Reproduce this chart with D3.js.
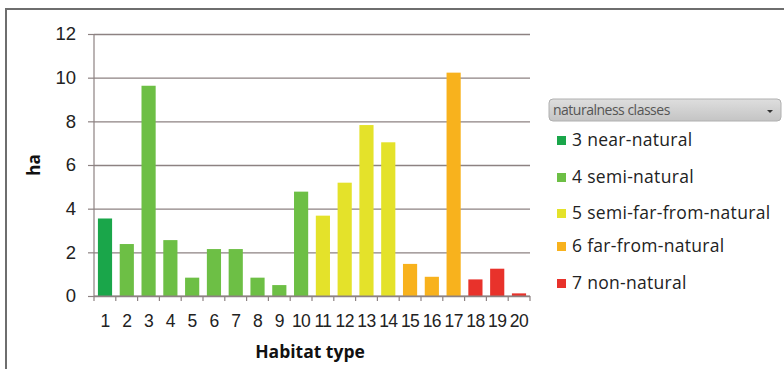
<!DOCTYPE html>
<html>
<head>
<meta charset="utf-8">
<script src="https://cdn.jsdelivr.net/npm/d3@7"></script>
<style>
  html, body { margin: 0; padding: 0; background: #fff; }
  svg { display: block; font-family: "Open Sans", "DejaVu Sans", sans-serif; }
</style>
</head>
<body>
<svg id="chart" width="784" height="369"></svg>
<script>
// Habitat types 1..20 and their area in hectares
const habitatTypes = ["1","2","3","4","5","6","7","8","9","10","11","12","13","14","15","16","17","18","19","20"];
const areaHa = [3.55, 2.38, 9.63, 2.56, 0.84, 2.15, 2.15, 0.84, 0.5, 4.78, 3.68, 5.19, 7.83, 7.04, 1.47, 0.88, 10.23, 0.76, 1.25, 0.12];
// naturalness class of each habitat type
const classOf = ["3","4","4","4","4","4","4","4","4","4","5","5","5","5","6","6","6","7","7","7"];
const classKeys = ["3","4","5","6","7"];
const classLabels = ["3 near-natural", "4 semi-natural", "5 semi-far-from-natural", "6 far-from-natural", "7 non-natural"];
const classColors = ["#1aa64a", "#6dbf45", "#e4e22a", "#f8b21d", "#e8322b"];
const yTicks = [0, 2, 4, 6, 8, 10, 12];

const svg = d3.select("#chart");
const margin = { left: 94, right: 254, top: 34, bottom: 73 };
const W = 784, H = 369;

const x = d3.scaleBand().domain(habitatTypes).range([margin.left, W - margin.right]).paddingInner(0.35).paddingOuter(0.18);
const y = d3.scaleLinear().domain([0, 12]).range([H - margin.bottom, margin.top]);
const color = d3.scaleOrdinal().domain(classKeys).range(classColors);

// outer frame
svg.append("path")
  .attr("d", `M6,${H} V9 H${W}`)
  .attr("fill", "none").attr("stroke", "#6e6e6e").attr("stroke-width", 2);

// horizontal gridlines with tick stubs
const yAxis = d3.axisLeft(y).tickValues(yTicks).tickSize(-(W - margin.right - margin.left)).tickPadding(18).tickFormat(d3.format("d"));
const gy = svg.append("g").attr("transform", `translate(${margin.left},0)`).call(yAxis);
gy.select(".domain").remove();
gy.selectAll(".tick line").attr("stroke", "#8d8282").attr("stroke-width", 1.4);
gy.selectAll(".tick").append("line").attr("x1", -6).attr("x2", 0).attr("stroke", "#8d8282").attr("stroke-width", 1.2);
gy.selectAll(".tick text").attr("font-size", 18.5).attr("fill", "#222");

// vertical axis line
svg.append("line")
  .attr("x1", margin.left).attr("x2", margin.left)
  .attr("y1", y(12)).attr("y2", y(0))
  .attr("stroke", "#8d8282").attr("stroke-width", 1.2);

// bars
svg.append("g").selectAll("rect").data(areaHa).join("rect")
  .attr("x", (d, i) => x(habitatTypes[i]))
  .attr("width", x.bandwidth())
  .attr("y", d => y(d))
  .attr("height", d => y(0) - y(d))
  .attr("fill", (d, i) => color(classOf[i]));

// x axis with ticks between categories
const xAxis = d3.axisBottom(x).tickSize(0).tickPadding(19);
const gx = svg.append("g").attr("transform", `translate(0,${y(0)})`).call(xAxis);
gx.select(".domain").attr("stroke", "#8d8282").attr("stroke-width", 1.2)
  .attr("d", `M${margin.left},0 H${W - margin.right}`);
gx.selectAll(".tick text").attr("font-size", 17.5).attr("fill", "#222").attr("letter-spacing", -0.6);
const bounds = d3.range(habitatTypes.length + 1).map(i => margin.left + i * (W - margin.right - margin.left) / habitatTypes.length);
gx.selectAll("line.sep").data(bounds).join("line").attr("class", "sep")
  .attr("x1", d => d).attr("x2", d => d).attr("y1", 0).attr("y2", 5)
  .attr("stroke", "#8d8282").attr("stroke-width", 1.2);

// axis titles
svg.append("text")
  .attr("transform", `translate(40,${(y(0) + y(12)) / 2}) rotate(-90)`)
  .attr("text-anchor", "middle").attr("font-size", 17).attr("font-weight", "bold").attr("fill", "#111")
  .text("ha");
svg.append("text")
  .attr("x", 310).attr("y", 358)
  .attr("text-anchor", "middle").attr("font-size", 17.5).attr("font-weight", "bold").attr("fill", "#111")
  .text("Habitat type");

// legend header (field button)
const lg = svg.append("g");
const hdrGrad = svg.append("defs").append("linearGradient").attr("id", "hdr").attr("x1", 0).attr("x2", 0).attr("y1", 0).attr("y2", 1);
hdrGrad.append("stop").attr("offset", "0%").attr("stop-color", "#dedede");
hdrGrad.append("stop").attr("offset", "100%").attr("stop-color", "#c4c4c4");
lg.append("rect").attr("x", 549).attr("y", 99).attr("width", 232).attr("height", 22).attr("rx", 4)
  .attr("fill", "url(#hdr)").attr("stroke", "#b0b0b0");
lg.append("text").attr("x", 553).attr("y", 115).attr("font-size", 14).attr("fill", "#555")
  .attr("letter-spacing", -0.5).text("naturalness classes");
lg.append("path").attr("d", "M767,110 l6,0 l-3,3 z").attr("fill", "#333");

// legend items
const rowY = [140, 177, 213, 246, 283];
const items = lg.selectAll("g.item").data(classKeys).join("g").attr("class", "item")
  .attr("transform", (d, i) => `translate(557,${rowY[i]})`);
items.append("rect").attr("x", 0).attr("y", -4).attr("width", 9).attr("height", 9)
  .attr("fill", d => color(d));
items.append("text").attr("x", 15).attr("y", 6).attr("font-size", 17.5).attr("fill", "#222")
  .attr("letter-spacing", 0.3)
  .text((d, i) => classLabels[i]);
</script>
</body>
</html>
